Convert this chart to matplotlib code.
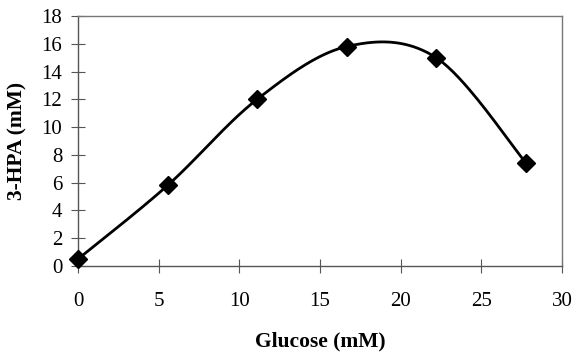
import numpy as np
import matplotlib
matplotlib.use("Agg")
import matplotlib.pyplot as plt

glucose = [0, 5.55, 11.1, 16.65, 22.2, 27.75]
hpa = [0.5, 5.8, 12.0, 15.8, 15.0, 7.45]
xticks = [0, 5, 10, 15, 20, 25, 30]
yticks = [0, 2, 4, 6, 8, 10, 12, 14, 16, 18]


def smooth(x, y, n=40):
    x = np.asarray(x, float)
    y = np.asarray(y, float)
    px = np.concatenate([[x[0]], x, [x[-1]]])
    py = np.concatenate([[y[0]], y, [y[-1]]])
    xs, ys = [], []
    t = np.linspace(0, 1, n)
    for i in range(1, len(px) - 2):
        p0 = np.array([px[i], py[i]])
        p3 = np.array([px[i + 1], py[i + 1]])
        c1 = p0 + (np.array([px[i + 1], py[i + 1]]) - np.array([px[i - 1], py[i - 1]])) / 6
        c2 = p3 - (np.array([px[i + 2], py[i + 2]]) - np.array([px[i], py[i]])) / 6
        b = ((1 - t) ** 3)[:, None] * p0 + (3 * (1 - t) ** 2 * t)[:, None] * c1 \
            + (3 * (1 - t) * t ** 2)[:, None] * c2 + (t ** 3)[:, None] * p3
        xs.extend(b[:, 0])
        ys.extend(b[:, 1])
    return np.array(xs), np.array(ys)


plt.rcParams['font.family'] = ['Liberation Serif', 'DejaVu Serif']
fig = plt.figure(figsize=(5.75, 3.52), dpi=100)
ax = fig.add_axes([78 / 575, 1 - 266 / 352, (562 - 78) / 575, (266 - 16) / 352])

sx, sy = smooth(glucose, hpa)
ax.plot(sx, sy, color='black', lw=2.0, zorder=3)
ax.plot(glucose, hpa, linestyle='none', marker='D', markersize=9, color='black', zorder=4,
        clip_on=False)

ax.set_xlim(0, 30)
ax.set_ylim(0, 18)
ax.set_xticks(xticks)
ax.set_yticks(yticks)
ax.tick_params(direction='inout', length=9.5, width=0.8, color='#555555', labelsize=15,
               top=False, right=False)
ax.tick_params(axis='x', pad=14)
ax.tick_params(axis='y', pad=6.5)
for s in ax.spines.values():
    s.set_color('#777777')
    s.set_linewidth(1.0)
ax.spines['left'].set_color('#555555')
ax.spines['bottom'].set_color('#555555')

ax.set_xlabel('Glucose (mM)', fontsize=15.5, fontweight='bold', labelpad=15)
ax.set_ylabel('3-HPA (mM)', fontsize=15.5, fontweight='bold', labelpad=10)

fig.savefig('out.png', dpi=100)
